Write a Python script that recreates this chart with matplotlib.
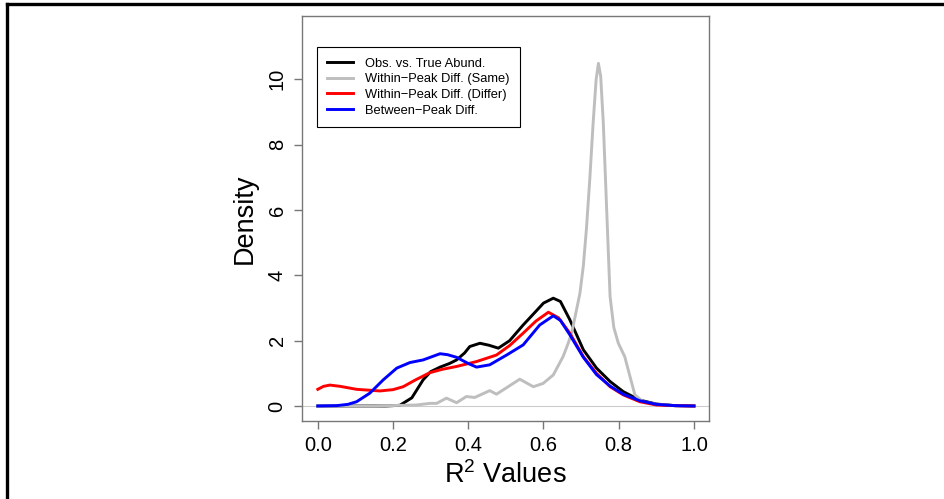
import matplotlib
matplotlib.use('Agg')
import matplotlib.pyplot as plt
from matplotlib.lines import Line2D

plt.rcParams['font.family'] = ['Liberation Sans', 'DejaVu Sans']
plt.rcParams['mathtext.default'] = 'regular'

# density curves (x = R^2, y = density)
obs_x = [0.0, 0.10, 0.18, 0.218, 0.25, 0.28, 0.30, 0.325, 0.35, 0.369, 0.39, 0.404, 0.431, 0.455,
         0.48, 0.51, 0.546, 0.58, 0.60, 0.626, 0.645, 0.67, 0.706, 0.741, 0.777, 0.812, 0.856,
         0.90, 0.95, 1.0]
obs_y = [0.0, 0.0, 0.0, 0.02, 0.25, 0.80, 1.05, 1.19, 1.30, 1.41, 1.62, 1.82, 1.92, 1.86,
         1.77, 2.00, 2.48, 2.90, 3.15, 3.30, 3.20, 2.64, 1.72, 1.16, 0.75, 0.44, 0.18,
         0.06, 0.01, 0.0]

same_x = [0.0, 0.15, 0.262, 0.298, 0.316, 0.342, 0.369, 0.395, 0.417, 0.457, 0.475, 0.506,
          0.537, 0.573, 0.599, 0.626, 0.652, 0.665, 0.675, 0.687, 0.697, 0.706, 0.714, 0.723,
          0.732, 0.740, 0.746, 0.752, 0.759, 0.768, 0.777, 0.787, 0.799, 0.816, 0.83, 0.843,
          0.865, 0.90, 0.95, 1.0]
same_y = [0.0, 0.0, 0.03, 0.08, 0.08, 0.24, 0.10, 0.29, 0.26, 0.47, 0.36, 0.59,
          0.82, 0.59, 0.69, 0.95, 1.51, 1.90, 2.24, 2.90, 3.46, 4.30, 5.40, 6.93,
          8.67, 10.0, 10.49, 10.1, 8.67, 6.00, 3.35, 2.40, 1.92, 1.51, 0.90, 0.34,
          0.13, 0.05, 0.01, 0.0]

differ_x = [0.0, 0.015, 0.032, 0.06, 0.103, 0.165, 0.20, 0.227, 0.26, 0.298, 0.33, 0.369,
            0.422, 0.475, 0.51, 0.546, 0.58, 0.613, 0.64, 0.67, 0.706, 0.741, 0.777, 0.812,
            0.856, 0.90, 0.95, 1.0]
differ_y = [0.51, 0.60, 0.64, 0.60, 0.51, 0.46, 0.50, 0.59, 0.80, 1.02, 1.12, 1.21,
            1.36, 1.56, 1.85, 2.23, 2.60, 2.87, 2.70, 2.23, 1.51, 1.00, 0.59, 0.34,
            0.13, 0.03, 0.01, 0.0]

between_x = [0.0, 0.05, 0.08, 0.103, 0.138, 0.174, 0.21, 0.245, 0.28, 0.325, 0.345, 0.369,
             0.40, 0.422, 0.457, 0.502, 0.546, 0.59, 0.626, 0.645, 0.67, 0.706, 0.741, 0.777,
             0.812, 0.856, 0.90, 0.95, 1.0]
between_y = [0.0, 0.01, 0.05, 0.13, 0.39, 0.80, 1.16, 1.33, 1.41, 1.60, 1.57, 1.49,
             1.30, 1.19, 1.26, 1.56, 1.87, 2.48, 2.76, 2.62, 2.18, 1.49, 0.96, 0.61,
             0.36, 0.16, 0.05, 0.01, 0.0]

labels = ['Obs. vs. True Abund.', 'Within\u2212Peak Diff. (Same)',
          'Within\u2212Peak Diff. (Differ)', 'Between\u2212Peak Diff.']
colors = ['black', '#BEBEBE', '#FF0000', '#0000FF']
x_ticks = [0.0, 0.2, 0.4, 0.6, 0.8, 1.0]
y_ticks = [0, 2, 4, 6, 8, 10]

fig = plt.figure(figsize=(9.45, 4.99), dpi=100)
ax = fig.add_axes([302 / 945, 1 - 421 / 499, 407 / 945, 405 / 499])

ax.axhline(0, color='#CCCCCC', lw=0.8, zorder=1)
series = [(obs_x, obs_y), (same_x, same_y), (differ_x, differ_y), (between_x, between_y)]
for (xs, ys), lab, col in zip(series, labels, colors):
    ax.plot(xs, ys, color=col, lw=2.1, label=lab, solid_joinstyle='round')

ax.set_xlim(-0.042, 1.04)
ax.set_ylim(-0.46, 11.94)
ax.set_xticks(x_ticks)
ax.set_xticklabels(['%.1f' % v for v in x_ticks])
ax.set_yticks(y_ticks)
ax.set_yticklabels([str(v) for v in y_ticks], rotation=90, va='center')
ax.tick_params(labelsize=14.5, length=6, width=1, color='#777777', pad=5)
for sp in ax.spines.values():
    sp.set_color('#777777')
    sp.set_linewidth(1.0)

ax.set_xlabel('R$^{2}$ Values', fontsize=19.5, labelpad=4)
ax.set_ylabel('Density', fontsize=19.5, labelpad=7.5)

leg = ax.legend(loc='upper left', bbox_to_anchor=(0.037, 0.923), borderaxespad=0,
                fontsize=9.3, handlelength=1.95, handletextpad=0.95, borderpad=0.8,
                labelspacing=0.28, fancybox=False, framealpha=1)
leg.get_frame().set_edgecolor('black')
leg.get_frame().set_linewidth(0.8)

# outer frame (top and left edges only)
fig.add_artist(Line2D([7.5 / 945, 1.0], [1 - 3.5 / 499, 1 - 3.5 / 499],
                      transform=fig.transFigure, color='black', lw=2.4))
fig.add_artist(Line2D([7.5 / 945, 7.5 / 945], [0.0, 1 - 3.5 / 499],
                      transform=fig.transFigure, color='black', lw=2.4))

fig.savefig('out.png', dpi=100)
